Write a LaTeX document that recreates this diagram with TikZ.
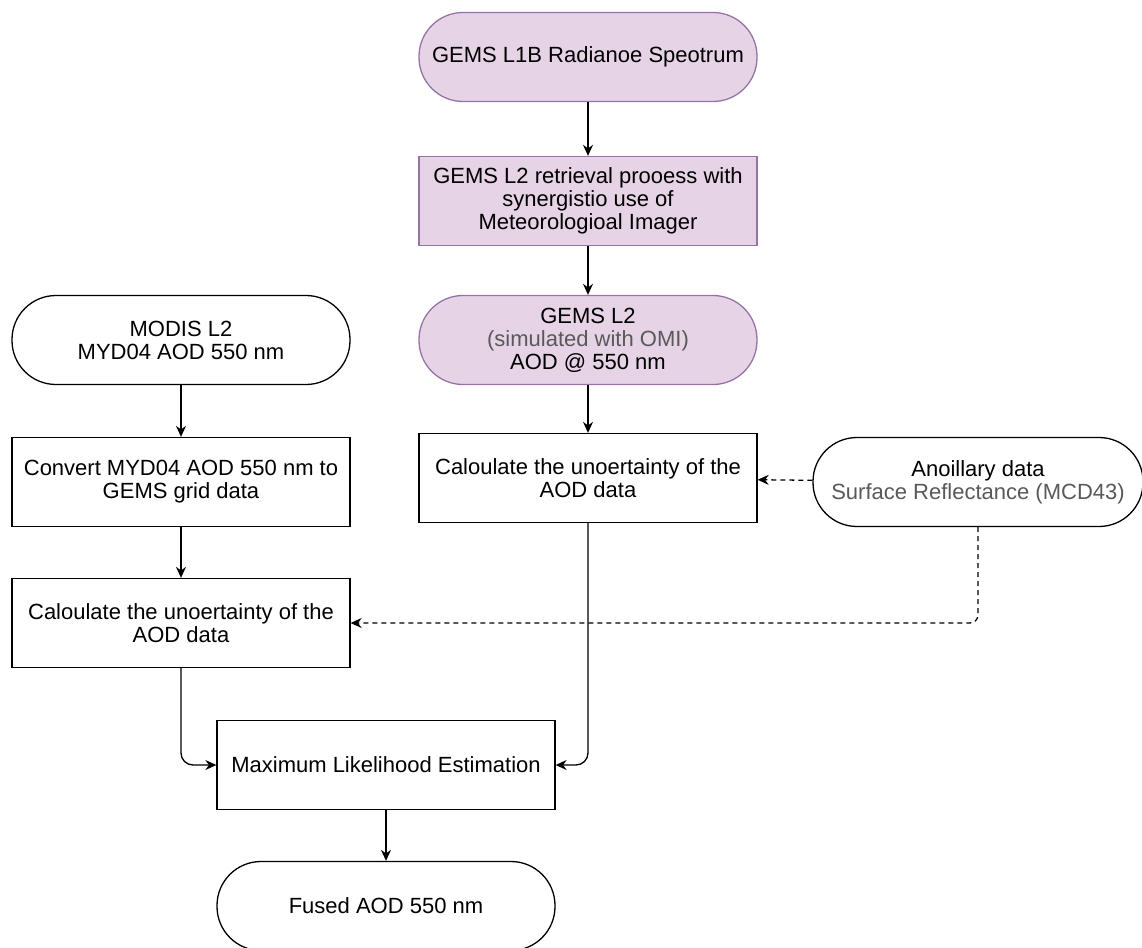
\documentclass[tikz,border=0pt]{standalone}
\usepackage{fontspec}
\setmainfont{Liberation Sans}
\usetikzlibrary{arrows.meta}
\definecolor{gemsfill}{HTML}{E6D3E6}
\definecolor{gemsline}{HTML}{9673A6}

\begin{document}
\begin{tikzpicture}[x=1pt,y=-1pt,>={Stealth[length=11pt,width=10pt]},
		font=\fontsize{22}{23}\selectfont,
		box node/.style = {draw, line width=1.3pt, minimum width=338pt, minimum height=89pt, align=center, inner sep=0pt},
		term node/.style = {box node, rounded corners=44pt},
		gems node/.style = {fill=gemsfill, draw=gemsline},
		flow/.style = {->, line width=1.3pt},
		aux/.style = {flow, dash pattern=on 5pt off 4pt}]
		\useasboundingbox (0,0) rectangle (1142,947);
		
		\node[term node,gems node] (1) at (588,57) {GEMS L1B Radianoe Speotrum};
		\node[box node,gems node] (2) at (588,201) {GEMS L2 retrieval prooess with\\synergistio use of\\Meteorologioal Imager};
		\node[term node,gems node] (3) at (588,340) {GEMS L2\\{\color{black!65}(simulated with OMI)}\\AOD @ 550 nm};
		\node[box node] (4) at (588,478) {Caloulate the unoertainty of the\\AOD data};
		\node[term node,minimum width=330pt] (5) at (978,482) {Anoillary data\\{\color{black!65}Surface Reflectance (MCD43)}};
		\node[term node] (6) at (181,340) {MODIS L2\\MYD04 AOD 550 nm};
		\node[box node] (7) at (181,482) {Convert MYD04 AOD 550 nm to\\GEMS grid data};
		\node[box node] (8) at (181,623) {Caloulate the unoertainty of the\\AOD data};
		\node[box node] (9) at (386,765) {Maximum Likelihood Estimation};
		\node[term node] (10) at (386,906) {Fused AOD 550 nm};
		
		\path[flow]
		(1) edge (2)
		(2) edge (3)
		(3) edge (4)
		(6) edge (7)
		(7) edge (8)
		(9) edge (10);
		\draw[aux] (5) -- (4);
		\draw[aux,rounded corners=8pt] (5) |- (8);
		\draw[flow,rounded corners=12pt] (8) |- (9);
		\draw[flow,rounded corners=12pt] (4) |- (9);
		\end{tikzpicture}
\end{document}
